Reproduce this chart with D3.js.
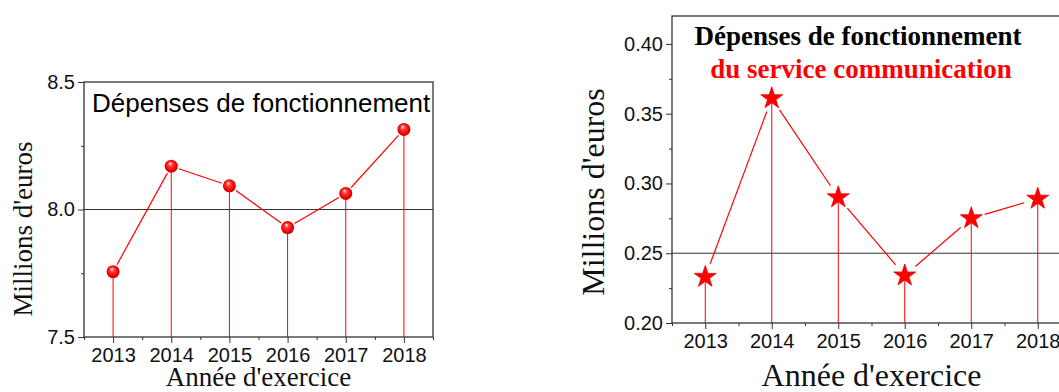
<!DOCTYPE html>
<html>
<head>
<meta charset="utf-8">
<script src="https://cdn.jsdelivr.net/npm/d3@7"></script>
<style>
  body { margin: 0; background: #fff; }
  svg { display: block; }
</style>
</head>
<body>
<svg id="drawing_region"></svg>
<script>
// data
const years = [2013, 2014, 2015, 2016, 2017, 2018];
const totalValues = [7.756, 8.170, 8.093, 7.929, 8.063, 8.314];
const commValues = [0.233, 0.361, 0.290, 0.234, 0.275, 0.289];
const totalTicks = [7.5, 8.0, 8.5];
const totalMinor = [7.75, 8.25];
const commTicks = [0.20, 0.25, 0.30, 0.35, 0.40];
const commMinor = [0.225, 0.275, 0.325, 0.375];
const halfYears = [2012.5, 2013.5, 2014.5, 2015.5, 2016.5, 2017.5, 2018.5];

const svg = d3.select("#drawing_region")
    .attr("width", 1059)
    .attr("height", 392);

// sphere gradient for the left chart
const defs = svg.append("defs");
const grad = defs.append("radialGradient")
    .attr("id", "ball")
    .attr("cx", "50%").attr("cy", "50%").attr("r", "55%")
    .attr("fx", "40%").attr("fy", "28%");
grad.append("stop").attr("offset", "0%").attr("stop-color", "#ffffff");
grad.append("stop").attr("offset", "30%").attr("stop-color", "#ff4040");
grad.append("stop").attr("offset", "75%").attr("stop-color", "#f00000");
grad.append("stop").attr("offset", "100%").attr("stop-color", "#b00000");

function drawPanel(cfg){
    const x = d3.scaleLinear().domain([2012.5, 2018.5]).range([cfg.left, cfg.right]);
    const y = d3.scaleLinear().domain(cfg.yDomain).range([cfg.bottom, cfg.top]);
    const g = svg.append("g");
    const data = years.map((yr, i) => ({yr: yr, v: cfg.values[i]}));

    // y axis, major and minor ticks
    g.append("g")
        .attr("transform", `translate(${cfg.left},0)`)
        .call(d3.axisLeft(y).tickValues(cfg.ticks).tickSize(6).tickPadding(3)
            .tickFormat(d3.format(cfg.fmt)))
        .call(a => a.select(".domain").remove())
        .call(a => a.selectAll("line").attr("stroke", "#333"))
        .call(a => a.selectAll("text").attr("font-family", "Liberation Sans, Arial, sans-serif")
            .attr("font-size", 20).attr("fill", "#111"));
    g.append("g")
        .attr("transform", `translate(${cfg.left},0)`)
        .call(d3.axisLeft(y).tickValues(cfg.minor).tickSize(3).tickFormat(""))
        .call(a => a.select(".domain").remove())
        .call(a => a.selectAll("line").attr("stroke", "#333"));

    // x axis
    g.append("g")
        .attr("transform", `translate(0,${cfg.bottom})`)
        .call(d3.axisBottom(x).tickValues(years).tickSize(6).tickPadding(5)
            .tickFormat(d3.format("d")))
        .call(a => a.select(".domain").remove())
        .call(a => a.selectAll("line").attr("stroke", "#333"))
        .call(a => a.selectAll("text").attr("font-family", "Liberation Sans, Arial, sans-serif")
            .attr("font-size", 20).attr("fill", "#111"));
    g.append("g")
        .attr("transform", `translate(0,${cfg.bottom})`)
        .call(d3.axisBottom(x).tickValues(halfYears).tickSize(3).tickFormat(""))
        .call(a => a.select(".domain").remove())
        .call(a => a.selectAll("line").attr("stroke", "#333"));

    // frame
    g.append("rect")
        .attr("x", cfg.left).attr("y", cfg.top)
        .attr("width", cfg.right - cfg.left).attr("height", cfg.bottom - cfg.top)
        .attr("fill", "none").attr("stroke", "#333").attr("stroke-width", 1.3);

    // reference line
    g.append("line")
        .attr("x1", cfg.left).attr("x2", cfg.right)
        .attr("y1", y(cfg.refLine)).attr("y2", y(cfg.refLine))
        .attr("stroke", "#333").attr("stroke-width", 1);

    // stems
    g.selectAll(".stem")
        .data(data)
        .enter()
        .append("line")
        .attr("x1", d => x(d.yr)).attr("x2", d => x(d.yr))
        .attr("y1", d => y(d.v)).attr("y2", cfg.bottom)
        .attr("stroke", "#ff0000").attr("stroke-width", 1);

    // connecting segments with a gap around each marker
    const segs = d3.pairs(data).map(([a, b]) => {
        const x0 = x(a.yr), y0 = y(a.v), x1 = x(b.yr), y1 = y(b.v);
        const len = Math.hypot(x1 - x0, y1 - y0);
        const ux = (x1 - x0) / len, uy = (y1 - y0) / len;
        return [x0 + ux*cfg.gap, y0 + uy*cfg.gap, x1 - ux*cfg.gap, y1 - uy*cfg.gap];
    });
    g.selectAll(".seg")
        .data(segs)
        .enter()
        .append("line")
        .attr("x1", d => d[0]).attr("y1", d => d[1])
        .attr("x2", d => d[2]).attr("y2", d => d[3])
        .attr("stroke", "#ff0000").attr("stroke-width", 1.2);

    // markers
    if(cfg.marker === "ball"){
        g.selectAll(".ball")
            .data(data)
            .enter()
            .append("circle")
            .attr("cx", d => x(d.yr)).attr("cy", d => y(d.v))
            .attr("r", 6.5)
            .attr("fill", "url(#ball)");
    } else {
        const star = d3.symbol().type(d3.symbolStar).size(150);
        g.selectAll(".star")
            .data(data)
            .enter()
            .append("path")
            .attr("d", star)
            .attr("transform", d => `translate(${x(d.yr)},${y(d.v)})`)
            .attr("fill", "#ff0000")
            .attr("stroke", "#ee0000").attr("stroke-width", 0.8);
    }

    // axis titles
    g.append("text")
        .attr("transform", `translate(${cfg.yTitleX},${cfg.yTitleY}) rotate(-90)`)
        .attr("text-anchor", "middle")
        .attr("font-family", "Liberation Serif, Times New Roman, serif")
        .attr("font-size", cfg.titleSize)
        .attr("fill", "#111")
        .text("Millions d'euros");
    g.append("text")
        .attr("x", (cfg.left + cfg.right) / 2 + cfg.xTitleShift)
        .attr("y", cfg.xTitleY)
        .attr("text-anchor", "middle")
        .attr("font-family", "Liberation Serif, Times New Roman, serif")
        .attr("font-size", cfg.titleSize)
        .attr("fill", "#111")
        .text("Année d'exercice");
    return g;
}

const left = drawPanel({
    left: 84, right: 433, top: 82, bottom: 337,
    yDomain: [7.5, 8.5], ticks: totalTicks, minor: totalMinor, fmt: ".1f",
    values: totalValues, refLine: 8.0, gap: 8, marker: "ball",
    titleSize: 27, yTitleX: 32, yTitleY: 229, xTitleY: 386, xTitleShift: 0
});
left.append("text")
    .attr("x", 92).attr("y", 112)
    .attr("font-family", "Liberation Sans, Arial, sans-serif")
    .attr("font-size", 26)
    .attr("fill", "#000")
    .text("Dépenses de fonctionnement");

const right = drawPanel({
    left: 672, right: 1071, top: 16, bottom: 323,
    yDomain: [0.2, 0.42], ticks: commTicks, minor: commMinor, fmt: ".2f",
    values: commValues, refLine: 0.25, gap: 14, marker: "star",
    titleSize: 32, yTitleX: 604, yTitleY: 192, xTitleY: 386, xTitleShift: 0
});
right.append("text")
    .attr("x", 858).attr("y", 45)
    .attr("text-anchor", "middle")
    .attr("font-family", "Liberation Serif, Times New Roman, serif")
    .attr("font-weight", "bold")
    .attr("font-size", 27)
    .attr("fill", "#000")
    .text("Dépenses de fonctionnement");
right.append("text")
    .attr("x", 861).attr("y", 78)
    .attr("text-anchor", "middle")
    .attr("font-family", "Liberation Serif, Times New Roman, serif")
    .attr("font-weight", "bold")
    .attr("font-size", 27)
    .attr("fill", "#ff0000")
    .text("du service communication");
</script>
</body>
</html>
